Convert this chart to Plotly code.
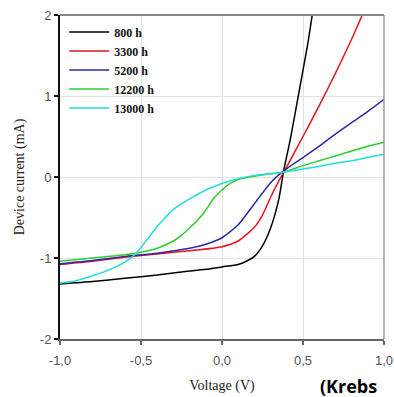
import plotly.graph_objects as go

# ---- data ----
series_names = ["800 h", "3300 h", "5200 h", "12200 h", "13000 h"]
series_colors = ["#000000", "#e5141e", "#2a2aa8", "#2ecc2e", "#22dede"]

v_800 = [-1.0, -0.8, -0.6, -0.4, -0.2, -0.1, 0.0, 0.1, 0.15, 0.2, 0.25, 0.3, 0.35, 0.38, 0.42, 0.46, 0.5, 0.53, 0.557]
i_800 = [-1.32, -1.29, -1.25, -1.21, -1.16, -1.14, -1.11, -1.08, -1.04, -0.98, -0.85, -0.63, -0.28, 0.07, 0.45, 0.88, 1.32, 1.65, 2.0]

v_3300 = [-1.0, -0.8, -0.6, -0.4, -0.2, 0.0, 0.1, 0.2, 0.25, 0.3, 0.35, 0.39, 0.5, 0.6, 0.7, 0.8, 0.866]
i_3300 = [-1.08, -1.04, -0.99, -0.95, -0.91, -0.86, -0.79, -0.62, -0.47, -0.25, -0.05, 0.09, 0.50, 0.88, 1.28, 1.70, 2.0]

v_5200 = [-1.0, -0.8, -0.6, -0.4, -0.2, -0.1, 0.0, 0.1, 0.2, 0.3, 0.39, 0.5, 0.6, 0.7, 0.8, 0.9, 1.0]
i_5200 = [-1.07, -1.03, -0.98, -0.94, -0.88, -0.83, -0.75, -0.59, -0.33, -0.07, 0.09, 0.24, 0.38, 0.53, 0.67, 0.81, 0.96]

v_12200 = [-1.0, -0.8, -0.6, -0.5, -0.4, -0.3, -0.25, -0.2, -0.15, -0.1, -0.05, 0.0, 0.05, 0.1, 0.2, 0.3, 0.38, 0.5, 0.6, 0.7, 0.8, 0.9, 1.0]
i_12200 = [-1.04, -1.0, -0.96, -0.93, -0.88, -0.79, -0.72, -0.63, -0.53, -0.41, -0.26, -0.16, -0.08, -0.03, 0.01, 0.04, 0.06, 0.14, 0.20, 0.26, 0.32, 0.38, 0.43]

v_13000 = [-1.0, -0.9, -0.8, -0.7, -0.6, -0.55, -0.5, -0.45, -0.4, -0.35, -0.3, -0.2, -0.1, 0.0, 0.1, 0.2, 0.3, 0.38, 0.5, 0.6, 0.7, 0.8, 0.9, 1.0]
i_13000 = [-1.31, -1.28, -1.22, -1.15, -1.05, -0.98, -0.87, -0.74, -0.61, -0.50, -0.40, -0.27, -0.16, -0.08, -0.02, 0.02, 0.04, 0.06, 0.10, 0.13, 0.17, 0.20, 0.24, 0.28]

x_tick_vals = [-1.0, -0.5, 0.0, 0.5, 1.0]
x_tick_labels = ["-1,0", "-0,5", "0,0", "0,5", "1,0"]
y_tick_vals = [-2, -1, 0, 1, 2]
y_tick_labels = ["-2", "-1", "0", "1", "2"]

x_title = "Voltage (V)"
y_title = "Device current (mA)"
source_text = "(Krebs"

all_v = [v_800, v_3300, v_5200, v_12200, v_13000]
all_i = [i_800, i_3300, i_5200, i_12200, i_13000]

fig = go.Figure()
for name, color, v, i in zip(series_names, series_colors, all_v, all_i):
    fig.add_trace(go.Scatter(
        x=v, y=i, name=name, mode="lines",
        line=dict(color=color, width=1.5, shape="spline", smoothing=0.6),
    ))

serif = "Liberation Serif, Times New Roman, serif"
sans = "Liberation Sans, Arial, sans-serif"

fig.update_layout(
    width=394, height=397,
    margin=dict(l=60, r=10, t=15, b=58, autoexpand=False),
    paper_bgcolor="white", plot_bgcolor="white",
    showlegend=True,
    legend=dict(
        x=0.013, y=0.992, xanchor="left", yanchor="top",
        bgcolor="rgba(0,0,0,0)", borderwidth=0,
        font=dict(family=serif, size=12, color="#111", weight="bold"),
        tracegroupgap=0, itemwidth=40,
    ),
    xaxis=dict(
        range=[-1, 1], tickvals=x_tick_vals, ticktext=x_tick_labels,
        automargin=False,
        showgrid=True, gridcolor="#e2e2e2", gridwidth=1,
        showline=True, linecolor="#666", linewidth=2,
        ticks="outside", ticklen=4, tickcolor="#666", tickwidth=1.5,
        ticklabelstandoff=4, ticklabeloverflow="allow",
        tickfont=dict(family=sans, size=13, color="#555"),
        zeroline=False,
        title=dict(text=x_title, font=dict(family=serif, size=14, color="#222"), standoff=14),
    ),
    yaxis=dict(
        range=[-2, 2], tickvals=y_tick_vals, ticktext=y_tick_labels,
        automargin=False,
        showgrid=True, gridcolor="#e2e2e2", gridwidth=1,
        showline=True, linecolor="#111", linewidth=2,
        ticks="outside", ticklen=4, tickcolor="#111", tickwidth=1.5,
        ticklabeloverflow="allow",
        tickfont=dict(family=sans, size=13, color="#555"),
        zeroline=False,
        title=dict(text=y_title, font=dict(family=serif, size=14, color="#222"), standoff=12),
    ),
    shapes=[
        dict(type="line", xref="paper", yref="paper", x0=0, x1=1, y0=1, y1=1,
             line=dict(color="#888", width=2), layer="above"),
        dict(type="line", xref="paper", yref="paper", x0=1, x1=1, y0=0, y1=1,
             line=dict(color="#999", width=1.5), layer="above"),
    ],
    annotations=[
        dict(text="<b>" + source_text + "</b>", xref="paper", yref="paper",
             x=0.795, y=-0.144, xanchor="left", yanchor="middle", showarrow=False,
             font=dict(family="Open Sans, sans-serif", size=18, color="#000")),
    ],
)

fig.write_html("out.html", config={"displayModeBar": False},
               post_script="document.body.style.margin='0';document.body.style.overflow='hidden';")
